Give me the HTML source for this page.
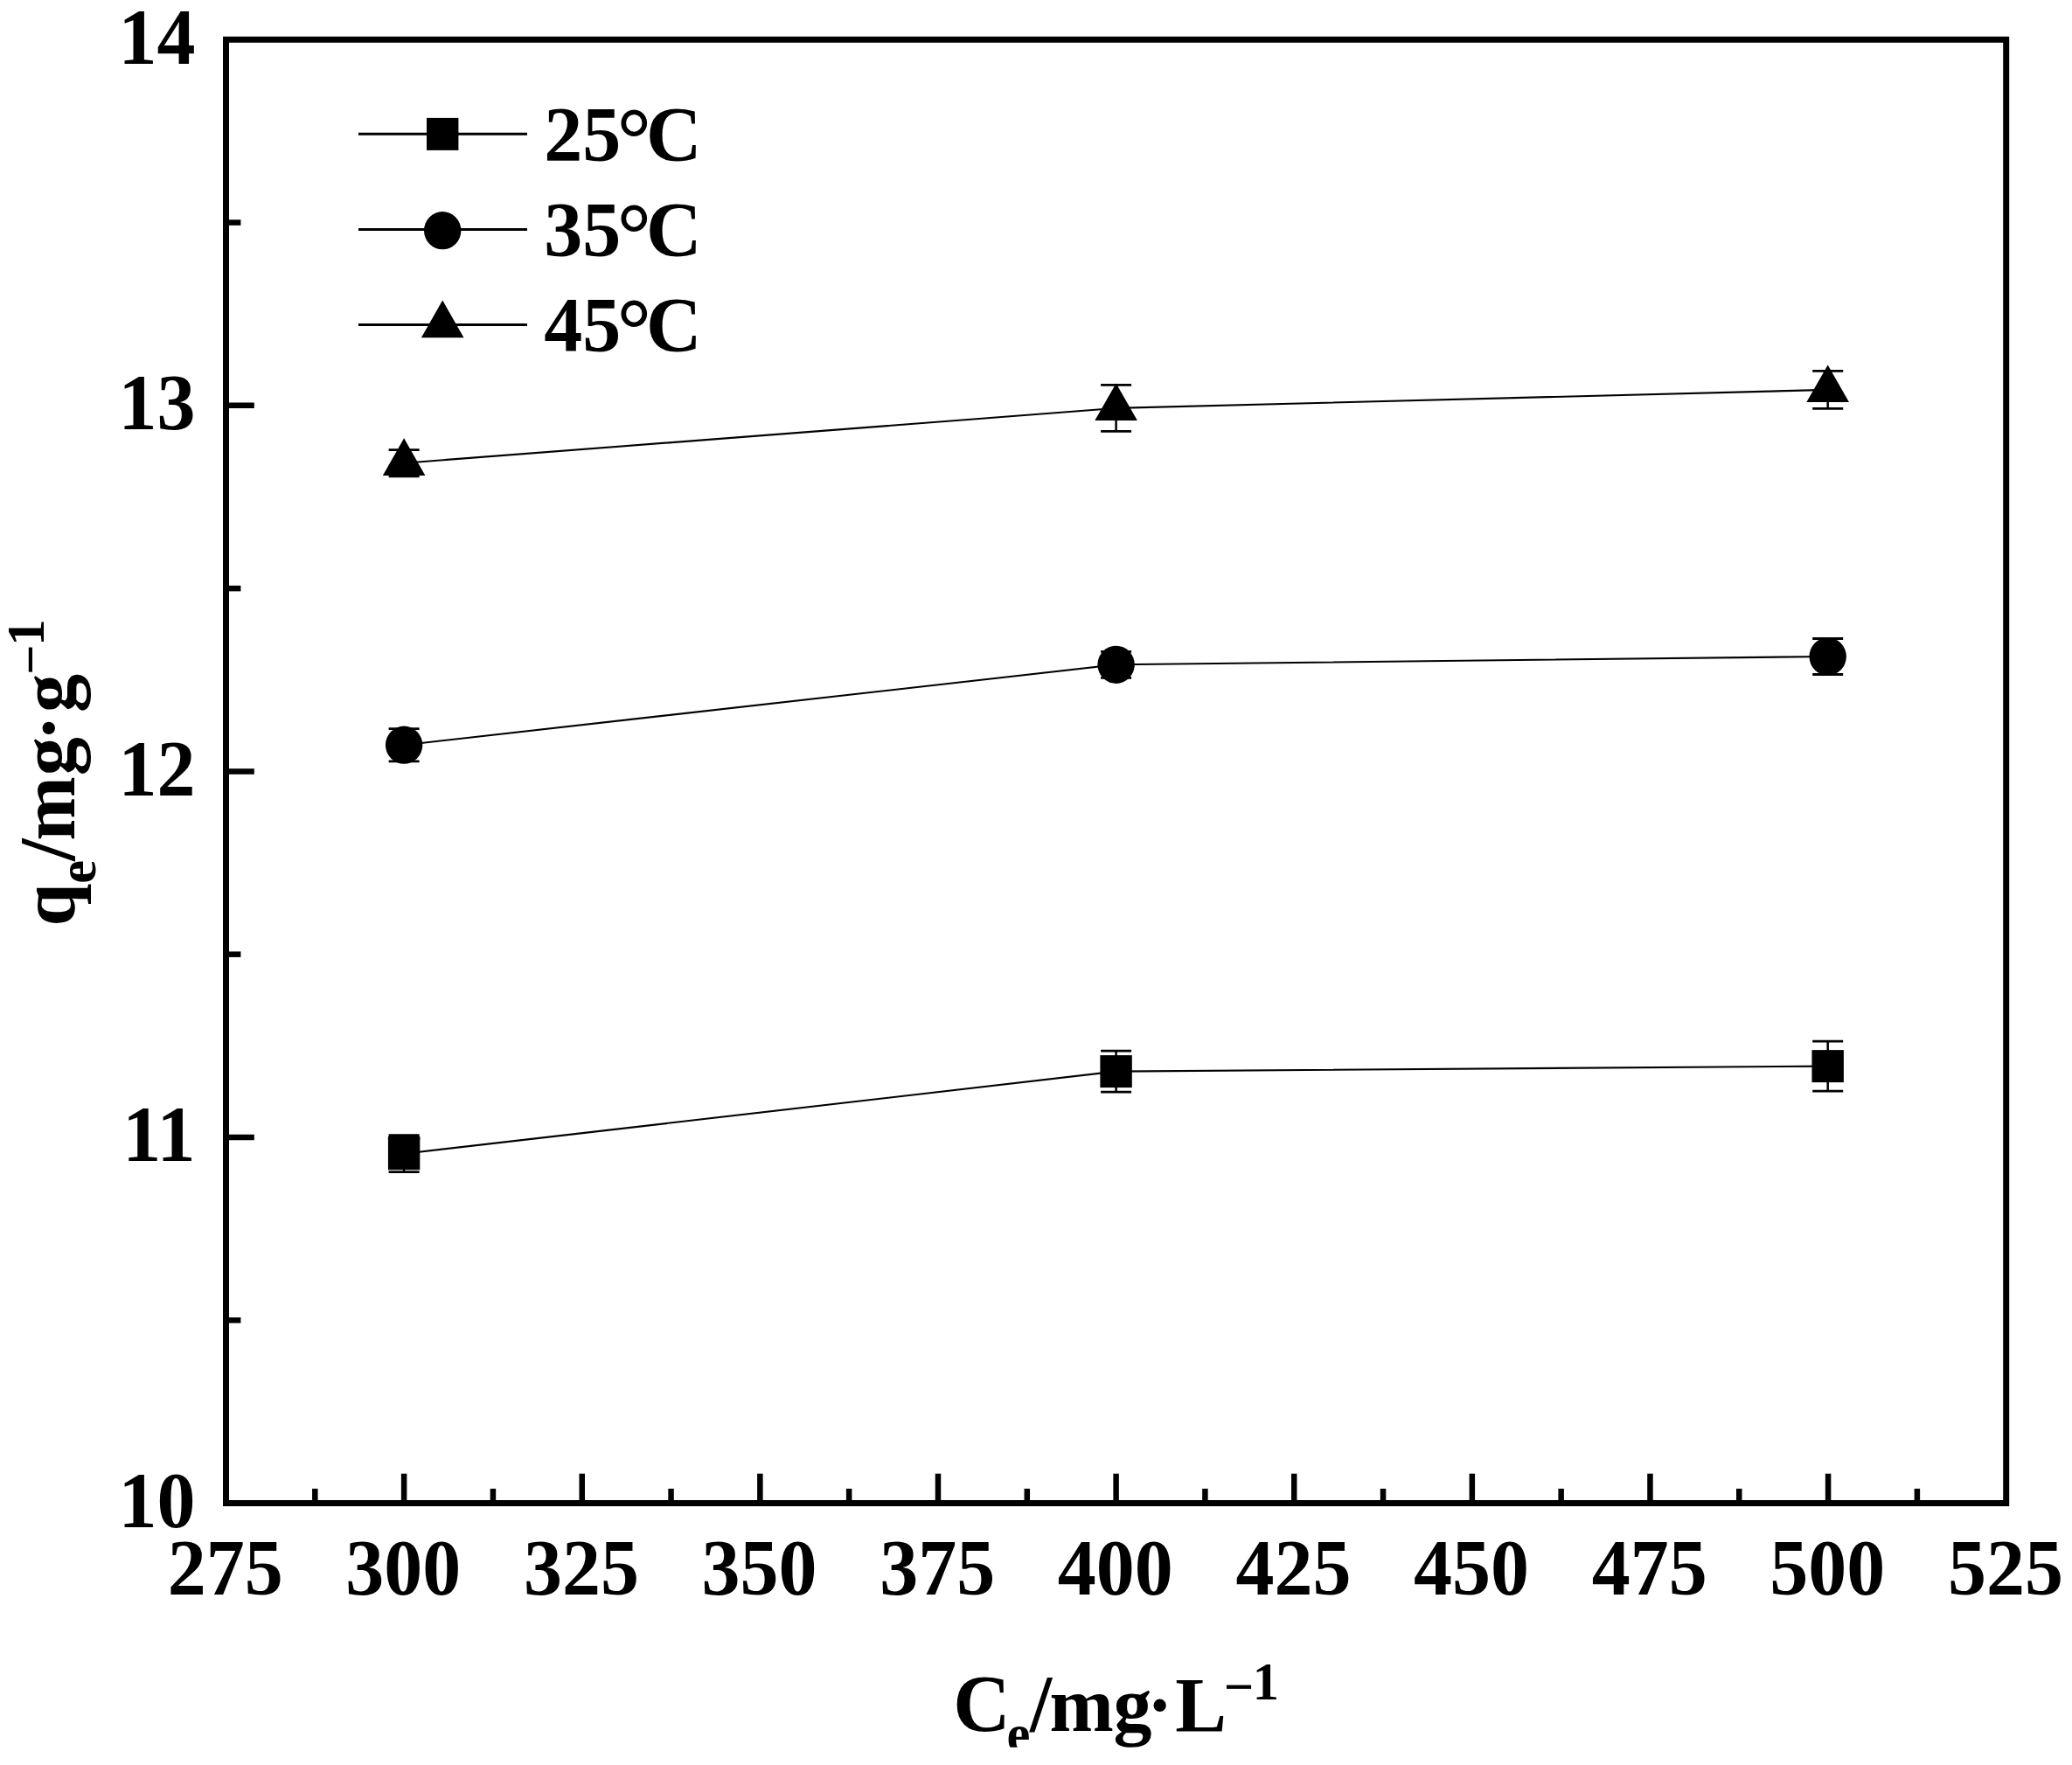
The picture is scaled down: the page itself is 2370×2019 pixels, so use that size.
<!DOCTYPE html>
<html lang="en"><head><meta charset="utf-8"><title>Adsorption isotherms</title>
<style>html,body{margin:0;padding:0;background:#fff;}body{width:2370px;height:2019px;overflow:hidden;}svg{display:block;}text{font-family:"Liberation Serif","Times New Roman",serif;font-weight:bold;fill:#000;}</style></head><body>
<svg width="2370" height="2019" viewBox="0 0 2370 2019">
<rect x="0" y="0" width="2370" height="2019" fill="#fff"/>
<rect x="258.50" y="45.30" width="2036.20" height="1674.20" fill="none" stroke="#000" stroke-width="7"/>
<g stroke="#000" stroke-width="6.5">
<line x1="360.31" y1="1719.50" x2="360.31" y2="1702.90"/>
<line x1="462.12" y1="1719.50" x2="462.12" y2="1685.70"/>
<line x1="563.93" y1="1719.50" x2="563.93" y2="1702.90"/>
<line x1="665.74" y1="1719.50" x2="665.74" y2="1685.70"/>
<line x1="767.55" y1="1719.50" x2="767.55" y2="1702.90"/>
<line x1="869.36" y1="1719.50" x2="869.36" y2="1685.70"/>
<line x1="971.17" y1="1719.50" x2="971.17" y2="1702.90"/>
<line x1="1072.98" y1="1719.50" x2="1072.98" y2="1685.70"/>
<line x1="1174.79" y1="1719.50" x2="1174.79" y2="1702.90"/>
<line x1="1276.60" y1="1719.50" x2="1276.60" y2="1685.70"/>
<line x1="1378.41" y1="1719.50" x2="1378.41" y2="1702.90"/>
<line x1="1480.22" y1="1719.50" x2="1480.22" y2="1685.70"/>
<line x1="1582.03" y1="1719.50" x2="1582.03" y2="1702.90"/>
<line x1="1683.84" y1="1719.50" x2="1683.84" y2="1685.70"/>
<line x1="1785.65" y1="1719.50" x2="1785.65" y2="1702.90"/>
<line x1="1887.46" y1="1719.50" x2="1887.46" y2="1685.70"/>
<line x1="1989.27" y1="1719.50" x2="1989.27" y2="1702.90"/>
<line x1="2091.08" y1="1719.50" x2="2091.08" y2="1685.70"/>
<line x1="2192.89" y1="1719.50" x2="2192.89" y2="1702.90"/>
<line x1="258.50" y1="1510.22" x2="275.40" y2="1510.22"/>
<line x1="258.50" y1="1300.95" x2="290.80" y2="1300.95"/>
<line x1="258.50" y1="1091.67" x2="275.40" y2="1091.67"/>
<line x1="258.50" y1="882.40" x2="290.80" y2="882.40"/>
<line x1="258.50" y1="673.12" x2="275.40" y2="673.12"/>
<line x1="258.50" y1="463.85" x2="290.80" y2="463.85"/>
<line x1="258.50" y1="254.57" x2="275.40" y2="254.57"/>
</g>
<g font-size="88" text-anchor="middle">
<text transform="translate(257.70 1823.8) scale(1 1.025)">275</text>
<text transform="translate(461.32 1823.8) scale(1 1.025)">300</text>
<text transform="translate(664.94 1823.8) scale(1 1.025)">325</text>
<text transform="translate(868.56 1823.8) scale(1 1.025)">350</text>
<text transform="translate(1072.18 1823.8) scale(1 1.025)">375</text>
<text transform="translate(1275.80 1823.8) scale(1 1.025)">400</text>
<text transform="translate(1479.42 1823.8) scale(1 1.025)">425</text>
<text transform="translate(1683.04 1823.8) scale(1 1.025)">450</text>
<text transform="translate(1886.66 1823.8) scale(1 1.025)">475</text>
<text transform="translate(2090.28 1823.8) scale(1 1.025)">500</text>
<text transform="translate(2293.90 1823.8) scale(1 1.025)">525</text>
</g>
<g font-size="88" text-anchor="end">
<text transform="translate(223.5 1746.90) scale(1 1.025)">10</text>
<text transform="translate(223.5 1328.35) scale(1 1.025)">11</text>
<text transform="translate(223.5 909.80) scale(1 1.025)">12</text>
<text transform="translate(223.5 491.25) scale(1 1.025)">13</text>
<text transform="translate(223.5 72.70) scale(1 1.025)">14</text>
</g>
<polyline fill="none" stroke="#000" stroke-width="2.1" points="462.12,1319.70 1276.60,1225.60 2090.68,1219.60"/>
<g stroke="#000" stroke-width="2.8" fill="none">
<path stroke-width="2.5" d="M462.12 1298.70V1340.70"/><path d="M444.62 1298.70H479.62M444.62 1340.70H479.62"/>
<path stroke-width="2.5" d="M1276.60 1202.10V1249.10"/><path d="M1259.10 1202.10H1294.10M1259.10 1249.10H1294.10"/>
<path stroke-width="2.5" d="M2090.68 1191.10V1248.10"/><path d="M2073.18 1191.10H2108.18M2073.18 1248.10H2108.18"/>
</g>
<g fill="#000">
<rect x="443.92" y="1301.20" width="36.40" height="37.00"/>
<rect x="1258.40" y="1207.10" width="36.40" height="37.00"/>
<rect x="2072.48" y="1201.10" width="36.40" height="37.00"/>
<rect x="443.92" y="1299.70" width="36.4" height="4"/>
</g>
<polyline fill="none" stroke="#000" stroke-width="2.1" points="462.12,852.20 1276.60,760.30 2090.68,751.00"/>
<g stroke="#000" stroke-width="2.8" fill="none">
<path stroke-width="2.5" d="M462.12 833.60V870.80"/><path d="M444.62 833.60H479.62M444.62 870.80H479.62"/>
<path stroke-width="2.5" d="M1276.60 745.30V775.30"/><path d="M1259.10 745.30H1294.10M1259.10 775.30H1294.10"/>
<path stroke-width="2.5" d="M2090.68 730.50V771.50"/><path d="M2073.18 730.50H2108.18M2073.18 771.50H2108.18"/>
</g>
<g fill="#000">
<ellipse cx="462.12" cy="852.20" rx="21.2" ry="21.6"/>
<ellipse cx="1276.60" cy="760.30" rx="21.2" ry="21.6"/>
<ellipse cx="2090.68" cy="751.00" rx="21.2" ry="21.6"/>
</g>
<polyline fill="none" stroke="#000" stroke-width="2.1" points="462.12,529.70 1276.60,466.90 2090.68,445.90"/>
<g stroke="#000" stroke-width="2.8" fill="none">
<path stroke-width="2.5" d="M462.12 514.60V544.80"/><path d="M444.62 514.60H479.62M444.62 544.80H479.62"/>
<path stroke-width="2.5" d="M1276.60 440.40V493.40"/><path d="M1259.10 440.40H1294.10M1259.10 493.40H1294.10"/>
<path stroke-width="2.5" d="M2090.68 424.40V467.40"/><path d="M2073.18 424.40H2108.18M2073.18 467.40H2108.18"/>
</g>
<g fill="#000">
<polygon points="462.12,501.30 437.82,543.90 486.42,543.90"/>
<polygon points="1276.60,438.50 1252.30,481.10 1300.90,481.10"/>
<polygon points="2090.68,417.50 2066.38,460.10 2114.98,460.10"/>
</g>
<line x1="410" y1="153.30" x2="603" y2="153.30" stroke="#000" stroke-width="3"/>
<g fill="#000"><rect x="488.00" y="134.90" width="36.40" height="37.00"/></g>
<text font-size="88" transform="translate(622.2 182.70) scale(1 1.02)">25<tspan font-size="98" dx="-4.4" dy="8.8">°</tspan><tspan dx="-6" dy="-8.8">C</tspan></text>
<line x1="410" y1="262.50" x2="603" y2="262.50" stroke="#000" stroke-width="3"/>
<g fill="#000"><ellipse cx="506.20" cy="263.70" rx="21.2" ry="21.6"/></g>
<text font-size="88" transform="translate(622.2 291.90) scale(1 1.02)">35<tspan font-size="98" dx="-4.4" dy="8.8">°</tspan><tspan dx="-6" dy="-8.8">C</tspan></text>
<line x1="410" y1="371.60" x2="603" y2="371.60" stroke="#000" stroke-width="3"/>
<g fill="#000"><polygon points="506.20,343.60 481.90,386.20 530.50,386.20"/></g>
<text font-size="88" transform="translate(622.2 401.00) scale(1 1.02)">45<tspan font-size="98" dx="-4.4" dy="8.8">°</tspan><tspan dx="-6" dy="-8.8">C</tspan></text>
<defs><clipPath id="cb"><rect x="0" y="0" width="2370" height="1998.7"/></clipPath></defs>
<g clip-path="url(#cb)"><text font-size="88" transform="translate(1090.2 1980.4) scale(1 1.02)"><tspan font-size="90.5">C</tspan><tspan font-size="60.6" dx="-4.1" dy="23.1">e</tspan><tspan font-size="90.5" dx="-0.4" dy="-23.1">/</tspan><tspan dx="-2.6">m</tspan><tspan dx="-0.3">g</tspan><tspan dx="-5.4">·</tspan><tspan dx="2.7">L</tspan><tspan font-size="60.6" dx="-3.2" dy="-29.5">−</tspan><tspan font-size="60.6" dx="-1.4" dy="-5.8">1</tspan></text></g>
<text font-size="88" transform="translate(85 1059.6) rotate(-90)">q<tspan font-size="60.6" dx="0" dy="23.7">e</tspan><tspan font-size="91" dx="-0.9" dy="-23.7">/</tspan><tspan dx="-2.1">m</tspan><tspan dx="1">g</tspan><tspan dx="-4.25">·</tspan><tspan dx="3">g</tspan><tspan font-size="60.6" dx="-0.8" dy="-29.6">−</tspan><tspan font-size="60.6" dx="-1.35" dy="-5.6">1</tspan></text>
</svg></body></html>
